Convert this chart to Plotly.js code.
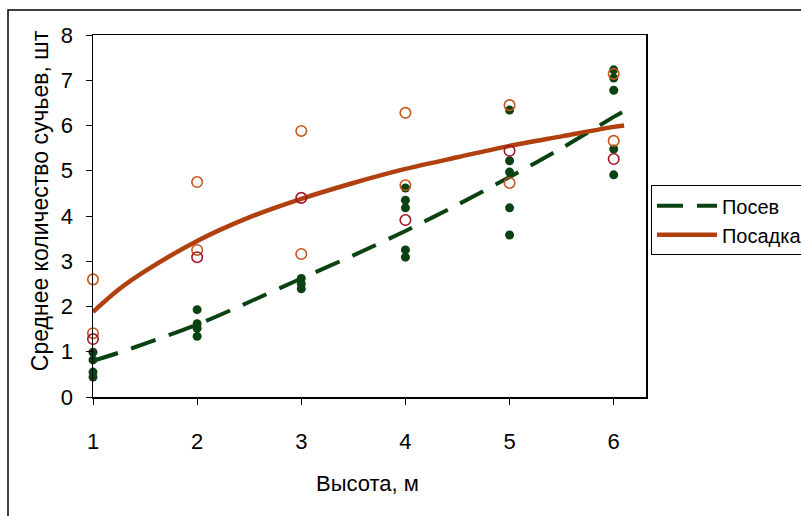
<!DOCTYPE html>
<html>
<head>
<meta charset="utf-8">
<script src="https://cdn.plot.ly/plotly-3.0.1.min.js"></script>
<style>html,body{margin:0;padding:0;background:#fff;}#chart{width:801px;height:516px;}</style>
</head>
<body>
<div id="chart"></div>
<script>
// Observed points: Посев (filled green dots)
const sowX = [1,1,1,1, 2,2,2,2, 3,3,3, 4,4,4,4,4, 5,5,5,5,5, 6,6,6,6,6];
const sowY = [0.99,0.82,0.55,0.44, 1.93,1.62,1.52,1.34, 2.62,2.5,2.39, 4.62,4.35,4.18,3.25,3.09, 6.34,5.22,4.97,4.18,3.58, 7.23,7.05,6.78,5.48,4.91];
// Observed points: Посадка (open circles, two shades)
const plantAX = [1,1, 2,2, 3,3, 4,4, 5,5, 6,6];
const plantAY = [2.6,1.41, 4.75,3.25, 5.88,3.16, 6.28,4.68, 6.45,4.73, 7.14,5.66];
const plantBX = [1, 2, 3, 4, 5, 6];
const plantBY = [1.28, 3.09, 4.4, 3.91, 5.44, 5.26];
// Trend lines
const trendX = [1, 1.25, 1.5, 2, 2.5, 3, 3.5, 4, 4.5, 5, 5.5, 6, 6.1];
const sowTrend = [0.8, 0.98, 1.18, 1.6, 2.1, 2.62, 3.13, 3.67, 4.25, 4.86, 5.5, 6.19, 6.32];
const plantTrend = [1.88, 2.38, 2.78, 3.45, 3.97, 4.38, 4.73, 5.04, 5.3, 5.55, 5.76, 5.97, 6.0];
const xTicks = [1, 2, 3, 4, 5, 6];
const yTicks = [0, 1, 2, 3, 4, 5, 6, 7, 8];
const names = ['Посев', 'Посадка'];

const green = '#0a4212';
const rust = '#b0400e';
const orangeC = '#c4561e';
const darkRedC = '#a3162a';

const traces = [
  {x: trendX, y: sowTrend, mode: 'lines', name: names[0], cliponaxis: false,
   line: {color: green, width: 4, dash: '26px,14px', shape: 'spline', smoothing: 0.8}},
  {x: trendX, y: plantTrend, mode: 'lines', name: names[1], cliponaxis: false,
   line: {color: rust, width: 4.5, shape: 'spline', smoothing: 0.8}},
  {x: sowX, y: sowY, mode: 'markers', showlegend: false, cliponaxis: false,
   marker: {color: green, size: 9}},
  {x: plantAX, y: plantAY, mode: 'markers', showlegend: false, cliponaxis: false,
   marker: {symbol: 'circle-open', color: orangeC, size: 10.5, line: {width: 1.6, color: orangeC}}},
  {x: plantBX, y: plantBY, mode: 'markers', showlegend: false, cliponaxis: false,
   marker: {symbol: 'circle-open', color: darkRedC, size: 10.5, line: {width: 1.6, color: darkRedC}}}
];

const layout = {
  width: 801, height: 516,
  margin: {l: 93, r: 155, t: 35, b: 119, autoexpand: false},
  paper_bgcolor: '#fff', plot_bgcolor: '#fff',
  font: {family: '"Liberation Sans", Arial, sans-serif', color: '#000', size: 21},
  showlegend: true,
  legend: {x: 1.009, y: 0.585, xanchor: 'left', yanchor: 'top',
    bordercolor: '#000', borderwidth: 1, bgcolor: '#fff',
    font: {size: 20}, itemwidth: 60, tracegroupgap: 0},
  xaxis: {range: [1, 6.31], tickvals: xTicks, ticktext: xTicks.map(String),
    showgrid: false, zeroline: false, showline: true, linecolor: '#000', linewidth: 1.5,
    mirror: true, ticks: 'outside', ticklen: 6, tickcolor: '#000', tickwidth: 1,
    ticklabelstandoff: 18, tickfont: {size: 22}},
  yaxis: {range: [0, 8], tickvals: yTicks, ticktext: yTicks.map(String),
    showgrid: false, zeroline: false, showline: true, linecolor: '#000', linewidth: 1.5,
    mirror: true, ticks: 'outside', ticklen: 6, tickcolor: '#000', tickwidth: 1,
    ticklabelstandoff: 8, tickfont: {size: 22}},
  annotations: [
    {text: 'Среднее количество сучьев, шт', xref: 'paper', yref: 'paper',
     x: -0.0958, y: 0.541, xanchor: 'center', yanchor: 'middle', textangle: -90,
     showarrow: false, font: {size: 23}},
    {text: 'Высота, м', xref: 'paper', yref: 'paper',
     x: 0.497, y: -0.240, xanchor: 'center', yanchor: 'middle',
     showarrow: false, font: {size: 22}}
  ],
  shapes: [
    {type: 'rect', xref: 'paper', yref: 'paper', x0: -0.1537, x1: 1.6, y0: -0.6, y1: 1.069,
     line: {color: '#000', width: 1.5}, fillcolor: 'rgba(0,0,0,0)', layer: 'below'}
  ]
};

Plotly.newPlot('chart', traces, layout, {displayModeBar: false, staticPlot: true});
</script>
</body>
</html>
